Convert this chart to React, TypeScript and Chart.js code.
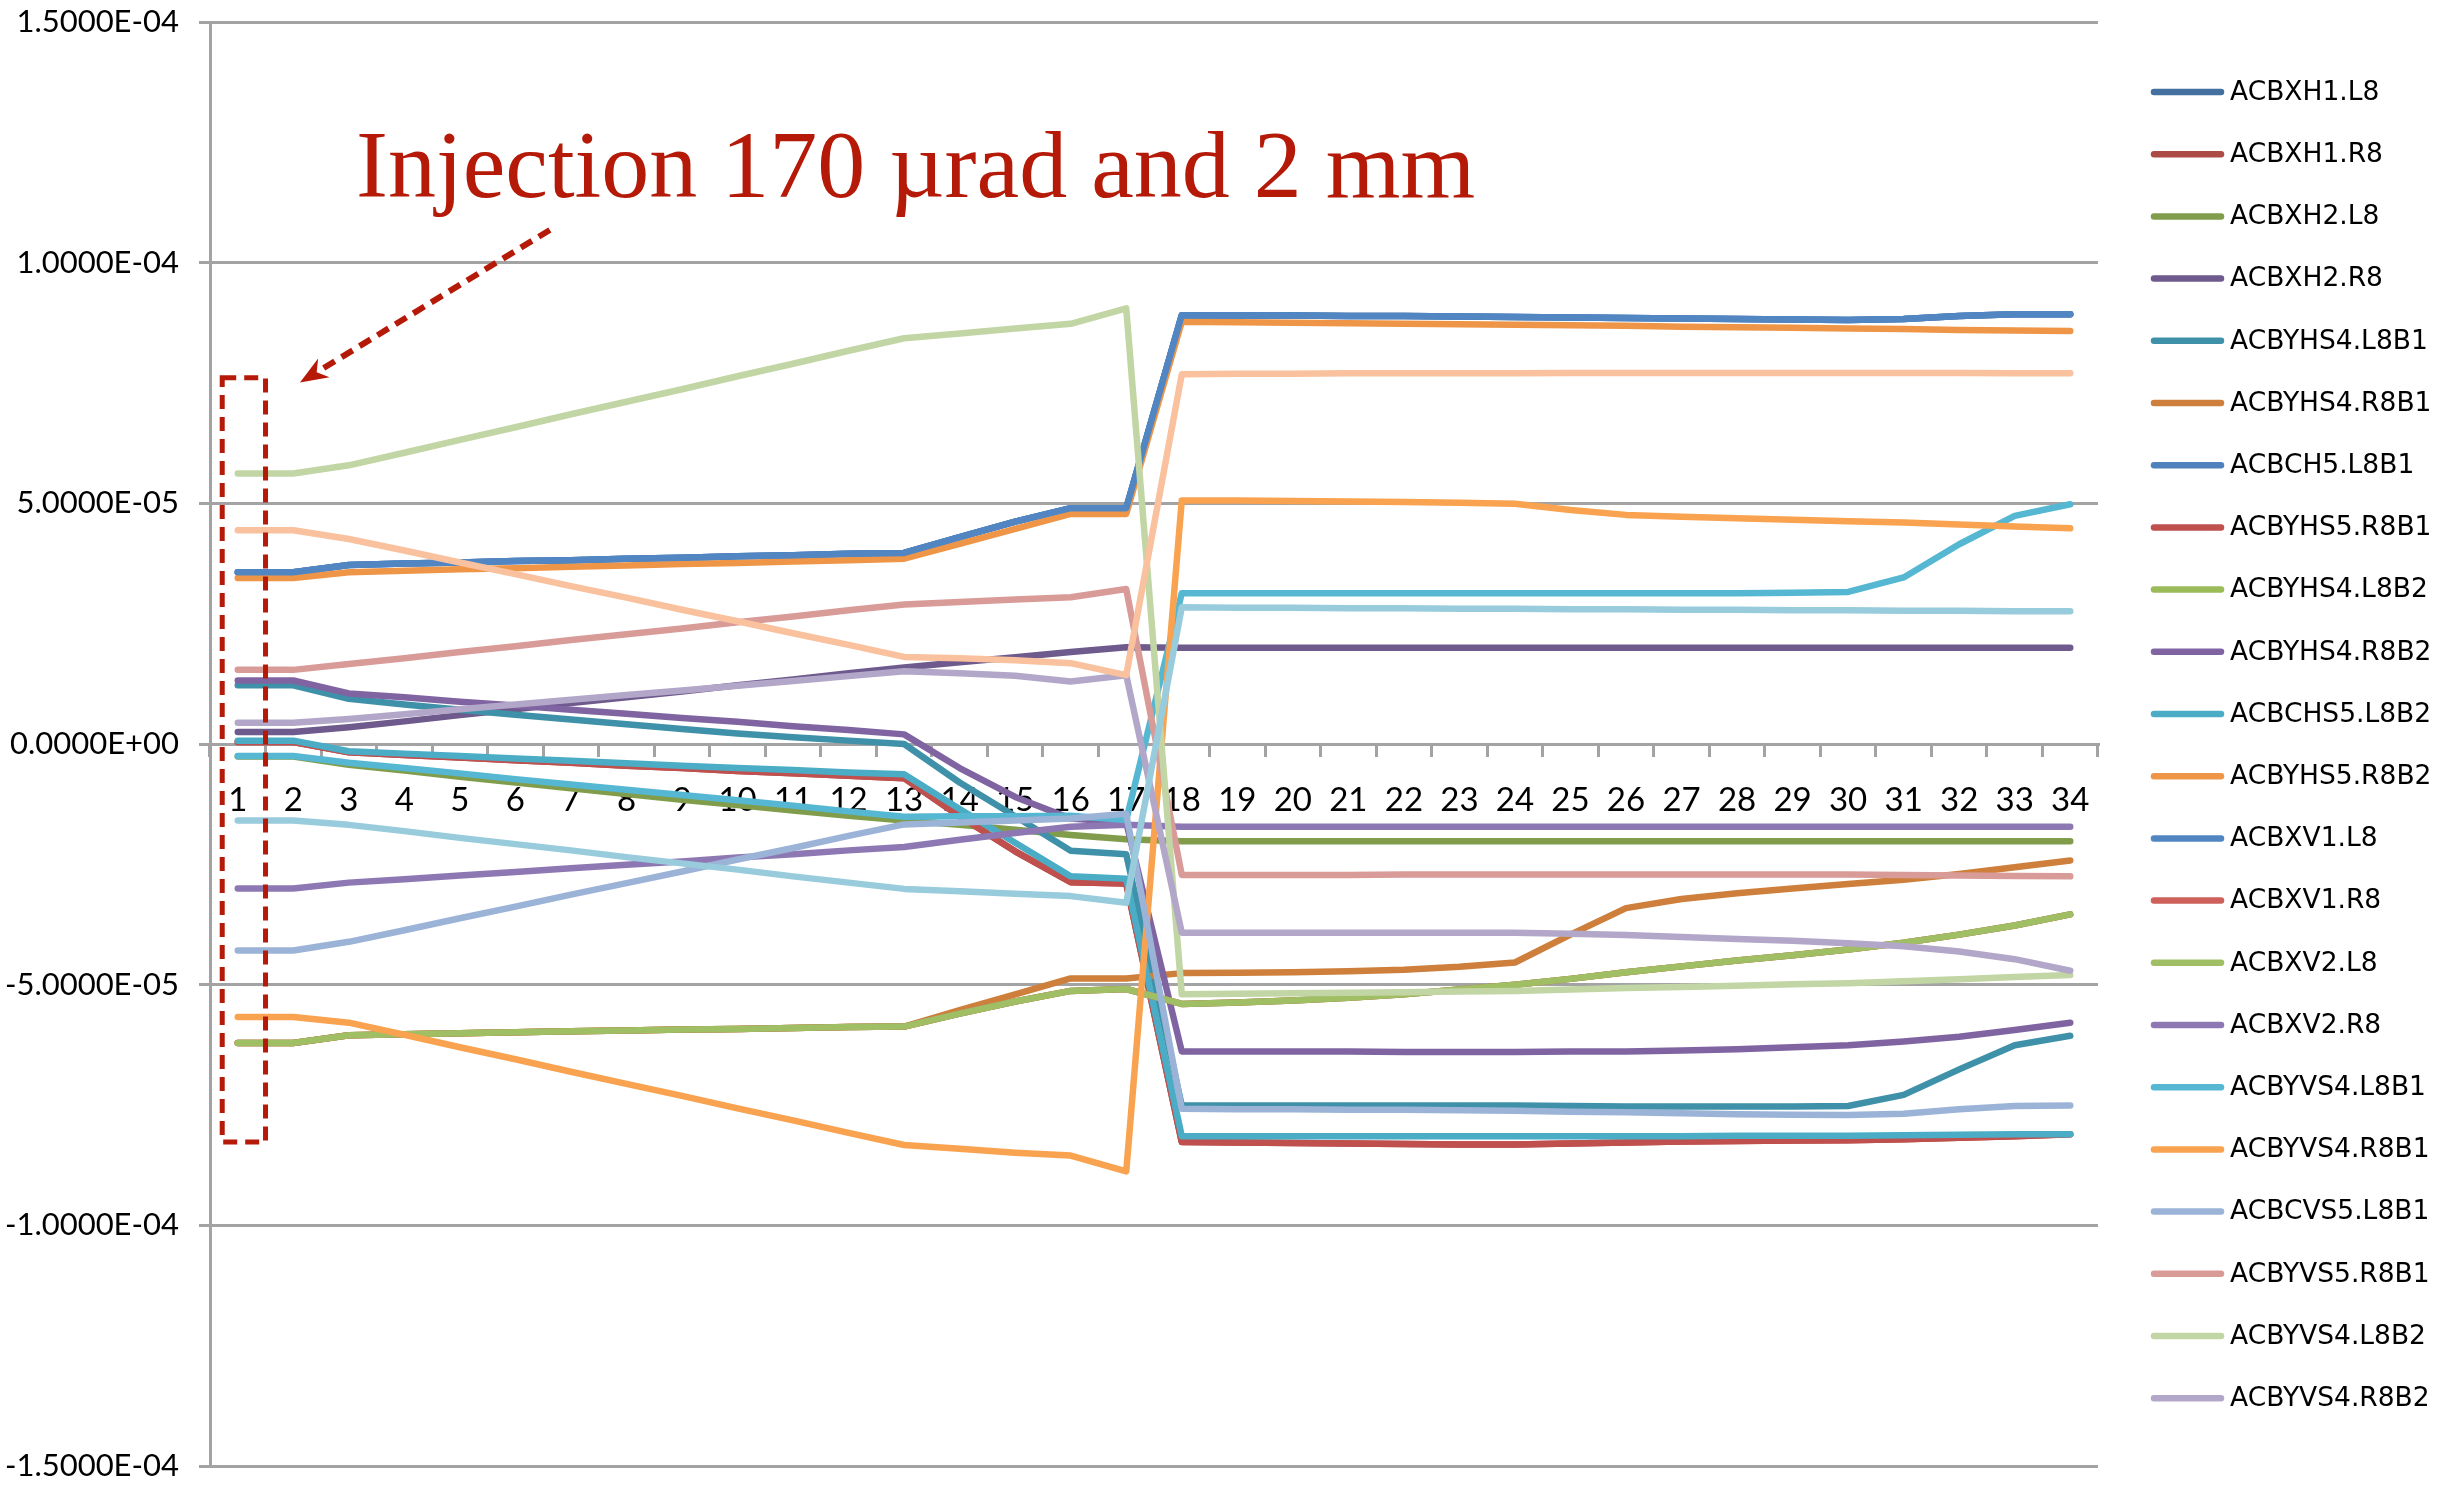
import React, { useEffect, useRef } from "react";
import { Chart, registerables } from "chart.js";

Chart.register(...registerables);

// Corrector kicks along the injection sequence, values in µrad.
const MICRORAD = 1e-6;

const STEPS = [
  "1", "2", "3", "4", "5", "6", "7", "8", "9", "10", "11", "12", "13", "14", "15", "16", "17",
  "18", "19", "20", "21", "22", "23", "24", "25", "26", "27", "28", "29", "30", "31", "32", "33", "34",
];

const Y_TICKS = [-150, -100, -50, 0, 50, 100, 150];

const ACBXH1_L8 = [35.7, 35.7, 37.2, 37.5, 37.7, 38.0, 38.2, 38.5, 38.7, 39.0, 39.2, 39.5, 39.7, 43.0, 46.2, 49.0, 49.0, 89.1, 89.0, 89.0, 88.9, 88.9, 88.8, 88.7, 88.6, 88.5, 88.4, 88.3, 88.2, 88.1, 88.3, 88.9, 89.3, 89.3];
const ACBXH1_R8 = [0.4, 0.4, -1.7, -2.3, -2.8, -3.4, -3.9, -4.5, -5.0, -5.6, -6.1, -6.6, -7.1, -15.0, -22.3, -28.7, -29.0, -82.7, -82.8, -82.9, -83.0, -83.1, -83.2, -83.2, -83.0, -82.8, -82.6, -82.5, -82.4, -82.3, -82.1, -81.8, -81.5, -81.1];
const ACBXH2_L8 = [-2.6, -2.6, -4.3, -5.5, -6.8, -8.0, -9.2, -10.4, -11.6, -12.7, -13.8, -14.9, -15.9, -16.8, -17.8, -18.9, -19.8, -20.2, -20.2, -20.2, -20.2, -20.2, -20.2, -20.2, -20.2, -20.2, -20.2, -20.2, -20.2, -20.2, -20.2, -20.2, -20.2, -20.2];
const ACBXH2_R8 = [2.5, 2.5, 3.5, 4.7, 6.0, 7.2, 8.5, 9.7, 10.9, 12.2, 13.4, 14.7, 15.9, 17.0, 18.0, 19.1, 20.1, 20.0, 20.0, 20.0, 20.0, 20.0, 20.0, 20.0, 20.0, 20.0, 20.0, 20.0, 20.0, 20.0, 20.0, 20.0, 20.0, 20.0];
const ACBYHS4_L8B1 = [12.2, 12.2, 9.4, 8.2, 7.1, 6.1, 5.1, 4.1, 3.1, 2.2, 1.4, 0.7, 0.0, -8.0, -15.0, -22.2, -22.9, -75.1, -75.1, -75.1, -75.1, -75.1, -75.1, -75.1, -75.2, -75.3, -75.3, -75.3, -75.3, -75.2, -72.9, -67.6, -62.6, -60.6];
const ACBYHS4_R8B1 = [-62.1, -62.1, -60.5, -60.3, -60.1, -59.9, -59.7, -59.5, -59.3, -59.2, -59.0, -58.8, -58.7, -55.3, -52.0, -48.7, -48.7, -47.6, -47.5, -47.4, -47.2, -46.9, -46.3, -45.4, -39.6, -34.1, -32.2, -31.0, -30.0, -29.1, -28.2, -27.0, -25.6, -24.2];
const ACBCH5_L8B1 = [35.7, 35.7, 37.2, 37.5, 37.7, 38.0, 38.2, 38.5, 38.7, 39.0, 39.2, 39.5, 39.7, 43.0, 46.2, 49.0, 49.0, 89.1, 89.0, 89.0, 88.9, 88.9, 88.8, 88.7, 88.6, 88.5, 88.4, 88.3, 88.2, 88.1, 88.3, 88.9, 89.3, 89.3];
const ACBYHS5_R8B1 = [0.4, 0.4, -1.7, -2.3, -2.8, -3.4, -3.9, -4.5, -5.0, -5.6, -6.1, -6.6, -7.1, -15.0, -22.3, -28.7, -29.0, -82.7, -82.8, -82.9, -83.0, -83.1, -83.2, -83.2, -83.0, -82.8, -82.6, -82.5, -82.4, -82.3, -82.1, -81.8, -81.5, -81.1];
const ACBYHS4_L8B2 = [-62.1, -62.1, -60.5, -60.3, -60.1, -59.9, -59.7, -59.5, -59.3, -59.2, -59.0, -58.8, -58.7, -56.0, -53.5, -51.3, -50.9, -54.0, -53.7, -53.3, -52.7, -52.0, -51.0, -50.0, -48.8, -47.4, -46.2, -45.0, -43.9, -42.7, -41.3, -39.6, -37.7, -35.4];
const ACBYHS4_R8B2 = [13.2, 13.2, 10.5, 9.7, 8.8, 8.0, 7.1, 6.3, 5.4, 4.6, 3.7, 2.9, 2.0, -5.0, -11.0, -15.5, -16.3, -63.9, -63.9, -63.9, -63.9, -64.0, -64.0, -64.0, -63.9, -63.9, -63.7, -63.4, -63.0, -62.6, -61.8, -60.8, -59.4, -57.9];
const ACBCHS5_L8B2 = [0.7, 0.7, -1.5, -2.0, -2.5, -3.0, -3.5, -4.0, -4.5, -5.0, -5.4, -5.9, -6.3, -13.5, -20.5, -27.5, -28.0, -81.5, -81.5, -81.5, -81.5, -81.5, -81.5, -81.5, -81.5, -81.5, -81.5, -81.4, -81.4, -81.4, -81.3, -81.2, -81.1, -81.1];
const ACBYHS5_R8B2 = [34.5, 34.5, 35.7, 36.0, 36.3, 36.5, 36.8, 37.1, 37.4, 37.6, 37.9, 38.2, 38.5, 41.6, 44.7, 47.8, 47.8, 87.7, 87.6, 87.5, 87.4, 87.3, 87.2, 87.1, 87.0, 86.9, 86.7, 86.6, 86.5, 86.3, 86.2, 86.0, 85.9, 85.8];
const ACBXV1_L8 = [35.7, 35.7, 37.2, 37.5, 37.7, 38.0, 38.2, 38.5, 38.7, 39.0, 39.2, 39.5, 39.7, 43.0, 46.2, 49.0, 49.0, 89.1, 89.0, 89.0, 88.9, 88.9, 88.8, 88.7, 88.6, 88.5, 88.4, 88.3, 88.2, 88.1, 88.3, 88.9, 89.3, 89.3];
const ACBXV1_R8 = [-62.1, -62.1, -60.5, -60.3, -60.1, -59.9, -59.7, -59.5, -59.3, -59.2, -59.0, -58.8, -58.7, -56.0, -53.5, -51.3, -50.9, -54.0, -53.7, -53.3, -52.7, -52.0, -51.0, -50.0, -48.8, -47.4, -46.2, -45.0, -43.9, -42.7, -41.3, -39.6, -37.7, -35.4];
const ACBXV2_L8 = [-62.1, -62.1, -60.5, -60.3, -60.1, -59.9, -59.7, -59.5, -59.3, -59.2, -59.0, -58.8, -58.7, -56.0, -53.5, -51.3, -50.9, -54.0, -53.7, -53.3, -52.7, -52.0, -51.0, -50.0, -48.8, -47.4, -46.2, -45.0, -43.9, -42.7, -41.3, -39.6, -37.7, -35.4];
const ACBXV2_R8 = [-30.0, -30.0, -28.8, -28.1, -27.3, -26.6, -25.8, -25.1, -24.4, -23.6, -22.9, -22.1, -21.4, -19.9, -18.5, -17.2, -16.8, -17.2, -17.2, -17.2, -17.2, -17.2, -17.2, -17.2, -17.2, -17.2, -17.2, -17.2, -17.2, -17.2, -17.2, -17.2, -17.2, -17.2];
const ACBYVS4_L8B1 = [-2.5, -2.5, -3.9, -5.0, -6.1, -7.3, -8.4, -9.5, -10.6, -11.7, -12.8, -14.0, -15.1, -15.0, -15.0, -14.9, -15.8, 31.3, 31.3, 31.3, 31.3, 31.3, 31.3, 31.3, 31.3, 31.3, 31.3, 31.3, 31.4, 31.6, 34.6, 41.5, 47.4, 49.8];
const ACBYVS4_R8B1 = [-56.7, -56.7, -57.9, -60.4, -63.0, -65.5, -68.1, -70.6, -73.1, -75.7, -78.2, -80.8, -83.3, -84.1, -84.9, -85.5, -88.8, 50.6, 50.6, 50.5, 50.4, 50.3, 50.1, 49.9, 48.6, 47.6, 47.2, 46.9, 46.6, 46.3, 46.0, 45.6, 45.2, 44.8];
const ACBCVS5_L8B1 = [-42.9, -42.9, -41.1, -38.7, -36.2, -33.8, -31.3, -28.9, -26.5, -24.0, -21.6, -19.1, -16.7, -16.3, -15.9, -15.5, -14.5, -75.8, -75.9, -75.9, -76.0, -76.0, -76.1, -76.2, -76.4, -76.5, -76.7, -76.9, -77.0, -77.1, -76.8, -75.9, -75.2, -75.1];
const ACBYVS5_R8B1 = [15.4, 15.4, 16.6, 17.8, 19.1, 20.3, 21.6, 22.8, 24.0, 25.3, 26.5, 27.8, 29.0, 29.5, 30.0, 30.5, 32.2, -27.2, -27.2, -27.2, -27.2, -27.1, -27.1, -27.1, -27.1, -27.1, -27.1, -27.1, -27.1, -27.1, -27.2, -27.3, -27.4, -27.5];
const ACBYVS4_L8B2 = [56.2, 56.2, 57.9, 60.5, 63.2, 65.8, 68.5, 71.1, 73.7, 76.4, 79.0, 81.7, 84.3, 85.3, 86.3, 87.3, 90.5, -52.0, -51.9, -51.8, -51.7, -51.6, -51.4, -51.3, -51.0, -50.7, -50.5, -50.2, -49.9, -49.7, -49.3, -48.9, -48.4, -48.0];
const ACBYVS4_R8B2 = [4.4, 4.4, 5.2, 6.2, 7.2, 8.2, 9.2, 10.2, 11.1, 12.1, 13.1, 14.1, 15.1, 14.7, 14.2, 13.0, 14.3, -39.2, -39.2, -39.2, -39.2, -39.2, -39.2, -39.2, -39.4, -39.7, -40.1, -40.5, -40.9, -41.4, -42.0, -43.1, -44.7, -47.1];
const ACBCVS5_L8B2 = [-15.9, -15.9, -16.8, -18.1, -19.5, -20.8, -22.1, -23.5, -24.8, -26.1, -27.5, -28.8, -30.1, -30.6, -31.1, -31.6, -33.0, 28.4, 28.3, 28.3, 28.2, 28.2, 28.1, 28.1, 28.0, 28.0, 27.9, 27.9, 27.8, 27.8, 27.7, 27.7, 27.6, 27.6];
const ACBYVS5_R8B2 = [44.4, 44.4, 42.6, 40.2, 37.7, 35.3, 32.8, 30.4, 27.9, 25.5, 23.0, 20.6, 18.1, 17.8, 17.4, 16.8, 14.3, 76.8, 76.9, 76.9, 77.0, 77.0, 77.0, 77.0, 77.1, 77.1, 77.1, 77.1, 77.1, 77.1, 77.1, 77.1, 77.0, 77.0];

const SERIES_NAMES = [
  "ACBXH1.L8", "ACBXH1.R8", "ACBXH2.L8", "ACBXH2.R8",
  "ACBYHS4.L8B1", "ACBYHS4.R8B1", "ACBCH5.L8B1", "ACBYHS5.R8B1",
  "ACBYHS4.L8B2", "ACBYHS4.R8B2", "ACBCHS5.L8B2", "ACBYHS5.R8B2",
  "ACBXV1.L8", "ACBXV1.R8", "ACBXV2.L8", "ACBXV2.R8",
  "ACBYVS4.L8B1", "ACBYVS4.R8B1", "ACBCVS5.L8B1", "ACBYVS5.R8B1",
  "ACBYVS4.L8B2", "ACBYVS4.R8B2", "ACBCVS5.L8B2", "ACBYVS5.R8B2",
];

const SERIES_VALUES = [
  ACBXH1_L8, ACBXH1_R8, ACBXH2_L8, ACBXH2_R8,
  ACBYHS4_L8B1, ACBYHS4_R8B1, ACBCH5_L8B1, ACBYHS5_R8B1,
  ACBYHS4_L8B2, ACBYHS4_R8B2, ACBCHS5_L8B2, ACBYHS5_R8B2,
  ACBXV1_L8, ACBXV1_R8, ACBXV2_L8, ACBXV2_R8,
  ACBYVS4_L8B1, ACBYVS4_R8B1, ACBCVS5_L8B1, ACBYVS5_R8B1,
  ACBYVS4_L8B2, ACBYVS4_R8B2, ACBCVS5_L8B2, ACBYVS5_R8B2,
];

const SERIES_COLORS = [
  "#43709F", "#AC4A46", "#819D4B", "#6E5A8C",
  "#3E91A8", "#CD7F3B", "#4F81BD", "#C0504D",
  "#9BBB59", "#8064A2", "#4BACC6", "#EE9548",
  "#5286C2", "#CE605C", "#A0BE63", "#8E78B4",
  "#55B7D1", "#F9A24F", "#9CB3D8", "#D99B98",
  "#C2D5A4", "#B3A7C9", "#98CCDC", "#F9C19D",
];

// Only the first entries fit in the side legend.
const LEGEND_COUNT = 22;

const NOTE_TEXT = "Injection 170 µrad and 2 mm";
const NOTE_COLOR = "#B51A08";
// Annotation anchors in (step, µrad).
const NOTE_TEXT_AT = [3.13, 113.6];
const NOTE_BOX = [0.72, 76.1, 1.5, -82.7];
const NOTE_ARROW = [6.62, 106.8, 2.12, 75.1];

const AXIS_GREY = "#A3A3A3";
const TICK_FONT = 'Lato, "Open Sans", "Liberation Sans", sans-serif';
const LINE_WIDTH = 6.5;

function formatSci(v: number): string {
  const [mant, exp] = v.toExponential(4).split("e");
  const sign = exp[0] === "-" ? "-" : "+";
  const digits = exp.replace(/^[-+]/, "").padStart(2, "0");
  return `${mant}E${sign}${digits}`;
}

const notePlugin = {
  id: "injectionNote",
  afterDatasetsDraw(chart: any) {
    const { ctx } = chart;
    const xs = chart.scales.x;
    const ys = chart.scales.y;
    const px = (step: number) => xs.getPixelForValue(step - 1);
    const py = (u: number) => ys.getPixelForValue(u * MICRORAD);
    ctx.save();
    ctx.fillStyle = NOTE_COLOR;
    ctx.strokeStyle = NOTE_COLOR;
    ctx.font = '96px "Liberation Serif", "Times New Roman", serif';
    ctx.textBaseline = "alphabetic";
    ctx.textAlign = "left";
    ctx.fillText(NOTE_TEXT, px(NOTE_TEXT_AT[0]), py(NOTE_TEXT_AT[1]));

    // dashed frame around the first step
    ctx.lineWidth = 5;
    ctx.setLineDash([14, 8]);
    ctx.lineCap = "butt";
    const bx0 = px(NOTE_BOX[0]);
    const by0 = py(NOTE_BOX[1]);
    const bx1 = px(NOTE_BOX[2]);
    const by1 = py(NOTE_BOX[3]);
    ctx.strokeRect(bx0, by0, bx1 - bx0, by1 - by0);

    // dashed arrow
    const ax0 = px(NOTE_ARROW[0]);
    const ay0 = py(NOTE_ARROW[1]);
    const ax1 = px(NOTE_ARROW[2]);
    const ay1 = py(NOTE_ARROW[3]);
    const ang = Math.atan2(ay1 - ay0, ax1 - ax0);
    const headLen = 28;
    const headHalf = 11;
    const sx = ax1 - Math.cos(ang) * headLen * 0.75;
    const sy = ay1 - Math.sin(ang) * headLen * 0.75;
    ctx.lineWidth = 6;
    ctx.setLineDash([13, 8]);
    ctx.beginPath();
    ctx.moveTo(ax0, ay0);
    ctx.lineTo(sx, sy);
    ctx.stroke();
    ctx.setLineDash([]);
    const bxh = ax1 - Math.cos(ang) * headLen;
    const byh = ay1 - Math.sin(ang) * headLen;
    const nx = -Math.sin(ang);
    const ny = Math.cos(ang);
    ctx.beginPath();
    ctx.moveTo(ax1, ay1);
    ctx.lineTo(bxh + nx * headHalf, byh + ny * headHalf);
    ctx.lineTo(ax1 - Math.cos(ang) * headLen * 0.7, ay1 - Math.sin(ang) * headLen * 0.7);
    ctx.lineTo(bxh - nx * headHalf, byh - ny * headHalf);
    ctx.closePath();
    ctx.fill();
    ctx.restore();
  },
};

const legendPlugin = {
  id: "sideLegend",
  afterDraw(chart: any) {
    const { ctx, chartArea } = chart;
    const x0 = chartArea.right + 56;
    const top = 92;
    const step = 62.2;
    ctx.save();
    ctx.font = '26.5px "DejaVu Sans", sans-serif';
    ctx.textBaseline = "middle";
    ctx.textAlign = "left";
    ctx.fillStyle = "#000";
    ctx.lineCap = "round";
    ctx.lineWidth = LINE_WIDTH;
    for (let i = 0; i < LEGEND_COUNT; i++) {
      const yy = top + i * step;
      ctx.strokeStyle = SERIES_COLORS[i];
      ctx.beginPath();
      ctx.moveTo(x0, yy);
      ctx.lineTo(x0 + 67, yy);
      ctx.stroke();
      ctx.fillText(SERIES_NAMES[i], x0 + 76, yy + 1);
    }
    ctx.restore();
  },
};

export default function App() {
  const canvasRef = useRef<HTMLCanvasElement | null>(null);

  useEffect(() => {
    document.body.style.margin = "0";
    const canvas = canvasRef.current;
    if (!canvas) return;
    const n = SERIES_NAMES.length;
    const datasets = SERIES_NAMES.map((name, i) => ({
      label: name,
      data: SERIES_VALUES[i].map((u) => u * MICRORAD),
      borderColor: SERIES_COLORS[i],
      backgroundColor: SERIES_COLORS[i],
      borderWidth: LINE_WIDTH,
      borderCapStyle: "round" as const,
      borderJoinStyle: "round" as const,
      pointRadius: 0,
      pointHoverRadius: 0,
      tension: 0,
      fill: false,
      // later series are painted over earlier ones
      order: n - i,
    }));

    const chart = new Chart(canvas, {
      type: "line",
      data: { labels: STEPS, datasets },
      options: {
        animation: false,
        responsive: false,
        devicePixelRatio: 1,
        events: [],
        layout: { padding: { left: 0, right: 348, top: 22, bottom: 30 } },
        plugins: {
          legend: { display: false },
          tooltip: { enabled: false },
          title: { display: false },
        },
        scales: {
          x: {
            type: "category",
            position: { y: 0 } as any,
            offset: true,
            afterFit: (scale: any) => {
              scale.paddingLeft = 0;
              scale.paddingRight = 0;
              scale.paddingTop = 0;
              scale.paddingBottom = 0;
            },
            grid: {
              display: true,
              drawOnChartArea: false,
              drawTicks: true,
              tickLength: 11,
              offset: true,
              color: AXIS_GREY,
              lineWidth: 3,
            },
            border: { display: true, color: AXIS_GREY, width: 3 },
            ticks: {
              autoSkip: false,
              maxRotation: 0,
              color: "#000",
              padding: 26,
              font: { family: TICK_FONT, size: 33 },
            },
          },
          y: {
            type: "linear",
            min: Y_TICKS[0] * MICRORAD,
            max: Y_TICKS[Y_TICKS.length - 1] * MICRORAD,
            afterBuildTicks: (scale: any) => {
              scale.ticks = Y_TICKS.map((u) => ({ value: u * MICRORAD }));
            },
            afterFit: (scale: any) => {
              scale.width = 210;
              scale.paddingTop = 0;
              scale.paddingBottom = 0;
            },
            grid: {
              color: AXIS_GREY,
              lineWidth: 3,
              drawTicks: true,
              tickLength: 11,
            },
            border: { display: true, color: AXIS_GREY, width: 3 },
            ticks: {
              color: "#000",
              padding: 20,
              font: { family: TICK_FONT, size: 31 },
              callback: (v: any) => formatSci(Number(v)),
            },
          },
        },
      },
      plugins: [notePlugin, legendPlugin],
    });
    return () => chart.destroy();
  }, []);

  return (
    <div style={{ position: "absolute", left: 0, top: 0, width: 2446, height: 1496, background: "#fff" }}>
      <canvas ref={canvasRef} width={2446} height={1496} style={{ display: "block" }} />
    </div>
  );
}
